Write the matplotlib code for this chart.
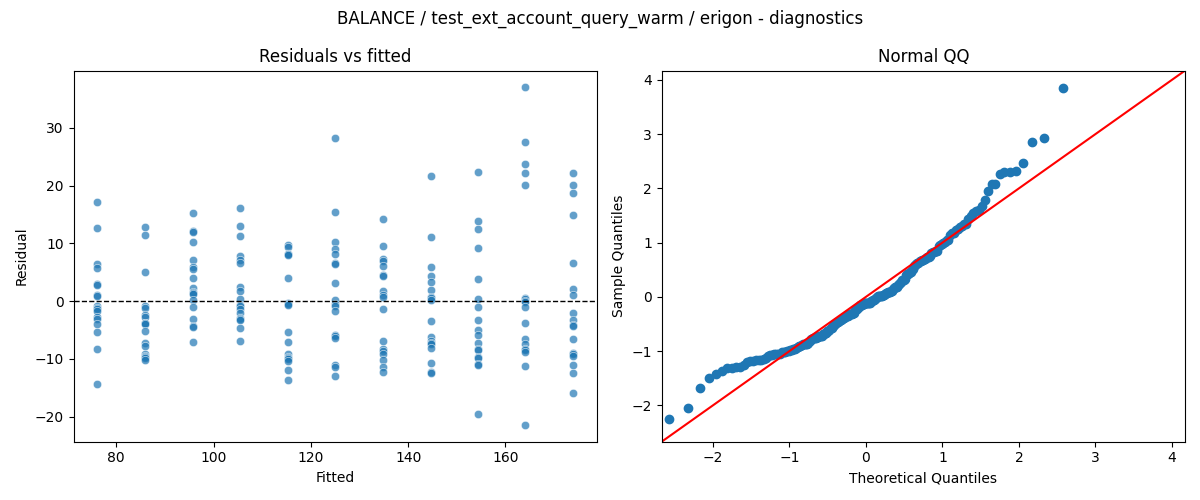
import numpy as np
import matplotlib
matplotlib.use("Agg")
import matplotlib.pyplot as plt
import seaborn as sns
from statistics import NormalDist

#%% data
fitted_levels = [76.1, 85.9, 95.7, 105.5, 115.3, 125.0, 134.8, 144.6, 154.4, 164.1, 173.9]

resid_by_level = [
    [17.2, 12.6, 6.4, 5.7, 3.0, 2.8, 1.1, 0.9, -0.9, -1.2, -1.4, -1.7, -2.7, -3.0, -3.9, -5.4, -8.2, -14.3],
    [12.9, 11.4, 5.0, -0.9, -1.1, -2.3, -2.7, -3.7, -3.8, -4.0, -5.1, -7.2, -7.7, -9.1, -9.5, -9.6, -9.9, -10.1],
    [15.2, 12.1, 11.9, 10.2, 7.1, 5.9, 5.5, 4.1, 2.3, 1.6, 1.4, 1.2, 0.2, -1.0, -3.0, -4.3, -4.5, -7.0],
    [16.2, 13.0, 11.3, 7.8, 7.1, 6.6, 2.5, 1.8, 0.4, -0.6, -0.9, -1.3, -2.1, -2.9, -3.0, -3.2, -4.7, -6.8],
    [9.7, 9.4, 8.2, 8.1, 8.0, 4.1, -0.3, -0.4, -0.6, -5.4, -7.0, -9.2, -9.6, -9.9, -10.0, -10.3, -11.9, -13.6],
    [28.2, 15.4, 10.2, 9.0, 8.2, 6.7, 6.4, 3.1, 0.2, -0.4, -0.9, -1.7, -5.8, -6.0, -6.3, -11.1, -11.4, -12.9],
    [14.3, 9.6, 7.3, 7.0, 6.1, 4.5, 4.4, 1.8, 1.0, 0.7, -1.4, -6.8, -8.3, -8.6, -9.1, -10.1, -11.3, -12.2],
    [21.7, 11.1, 6.0, 4.3, 3.3, 1.9, 0.7, 0.5, 0.2, -3.5, -6.2, -6.8, -7.2, -7.4, -8.1, -10.7, -12.3, -12.4],
    [22.4, 13.9, 12.5, 9.2, 3.9, 0.3, -1.0, -3.3, -4.9, -5.9, -7.2, -8.2, -8.4, -9.7, -9.9, -10.8, -11.0, -19.5],
    [37.0, 27.5, 23.8, 22.2, 20.1, 0.6, 0.3, 0.1, -0.1, -1.0, -3.7, -6.5, -7.4, -8.2, -8.5, -8.8, -11.2, -21.4],
    [22.2, 20.1, 18.8, 14.9, 6.6, 2.2, 1.0, -2.1, -3.2, -4.1, -4.3, -6.5, -9.0, -9.2, -9.4, -11.0, -12.4, -15.9],
]

fitted = np.concatenate([[f] * len(r) for f, r in zip(fitted_levels, resid_by_level)])
resid = np.concatenate(resid_by_level)

#%% qq quantities
z = (resid - resid.mean()) / resid.std()
sample_q = np.sort(z)
n = len(sample_q)
theo_q = np.array([NormalDist().inv_cdf(i / (n + 1)) for i in range(1, n + 1)])
qq_lim = (-2.67, 4.17)

#%% plot
fig, (ax1, ax2) = plt.subplots(1, 2, figsize=(12, 5), dpi=100)

sns.scatterplot(x=fitted, y=resid, ax=ax1, alpha=0.7)
ax1.axhline(0, color='black', linestyle='--', linewidth=1)
ax1.set_title('Residuals vs fitted')
ax1.set_xlabel('Fitted')
ax1.set_ylabel('Residual')

ax2.plot(theo_q, sample_q, marker='o', linestyle='none', color='C0')
ax2.plot(qq_lim, qq_lim, 'r-')
ax2.set_xlim(qq_lim)
ax2.set_ylim(qq_lim)
ax2.set_title('Normal QQ')
ax2.set_xlabel('Theoretical Quantiles')
ax2.set_ylabel('Sample Quantiles')

fig.suptitle('BALANCE / test_ext_account_query_warm / erigon - diagnostics')
fig.tight_layout()
fig.savefig('out.png')
